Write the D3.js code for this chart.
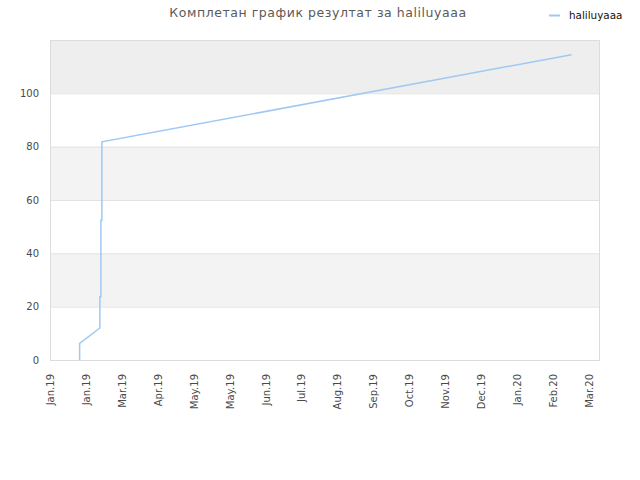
<!DOCTYPE html>
<html>
<head>
<meta charset="utf-8">
<script src="https://cdn.jsdelivr.net/npm/d3@7/dist/d3.min.js"></script>
<style>
  html, body { margin: 0; padding: 0; background: #fff; }
  svg { display: block; font-family: "DejaVu Sans", sans-serif; }
</style>
</head>
<body>
<svg id="chart" width="640" height="480"></svg>
<script>
// ---- data ----
const seriesName = "haliluyaaa";
const titleText = "Комплетан график резултат за haliluyaaa";
const pointDates = [
  "2019-01-25T18:00:00Z", "2019-01-25T18:00:00Z",
  "2019-02-11T16:00:00Z", "2019-02-11T16:00:00Z",
  "2019-02-12T12:00:00Z", "2019-02-12T12:00:00Z",
  "2019-02-13T08:00:00Z", "2019-02-13T08:00:00Z",
  "2020-03-11T12:00:00Z"
];
const pointValues = [0, 6.2, 12, 23.7, 23.7, 52.4, 52.4, 81.8, 114.5];
const xTickDates = [
  "2019-01-01", "2019-01-31", "2019-03-02", "2019-04-01", "2019-05-01",
  "2019-05-31", "2019-06-30", "2019-07-30", "2019-08-29", "2019-09-28",
  "2019-10-28", "2019-11-27", "2019-12-27", "2020-01-26", "2020-02-25",
  "2020-03-26"
];
const yTicks = [0, 20, 40, 60, 80, 100];
const yBands = [[20, 40], [60, 80], [100, 120]];
const xDomain = ["2019-01-01T00:00:00Z", "2020-04-04T08:00:00Z"];
const yDomain = [0, 120];

// ---- layout ----
const svg = d3.select("#chart");
const L = 50, R = 600, T = 40, B = 360;
const x = d3.scaleUtc().domain(xDomain.map(d => new Date(d))).range([L, R]);
const y = d3.scaleLinear().domain(yDomain).range([B, T]);

// bands
svg.append("g").selectAll("rect").data(yBands).join("rect")
  .attr("x", L).attr("width", R - L)
  .attr("y", d => y(d[1])).attr("height", d => y(d[0]) - y(d[1]))
  .attr("fill", d => d[1] === 120 ? "#eeeeee" : "#f3f3f3");

// grid lines
svg.append("g").selectAll("line").data(yTicks.filter(v => v > 0)).join("line")
  .attr("x1", L).attr("x2", R)
  .attr("y1", d => y(d) + 0.5).attr("y2", d => y(d) + 0.5)
  .attr("stroke", "#e2e2e2").attr("stroke-width", 1);

// border
svg.append("rect").attr("x", L + 0.5).attr("y", T + 0.5)
  .attr("width", R - L - 1).attr("height", B - T)
  .attr("fill", "none").attr("stroke", "#dcdcdc").attr("stroke-width", 1);

// y axis
const yAxis = d3.axisLeft(y).tickValues(yTicks).tickSize(0).tickPadding(11);
const gy = svg.append("g").attr("transform", `translate(${L},0)`).call(yAxis);
gy.select(".domain").remove();
gy.selectAll("text").attr("fill", "#4a4a4a").style("font-size", "10px")
  .style("font-family", "DejaVu Sans, sans-serif");

// x axis
const fmt = d3.utcFormat("%b.%y");
const xAxis = d3.axisBottom(x).tickValues(xTickDates.map(d => new Date(d + "T00:00:00Z")))
  .tickFormat(fmt).tickSize(0);
const gx = svg.append("g").attr("transform", `translate(0,${B})`).call(xAxis);
gx.select(".domain").remove();
gx.selectAll("text")
  .attr("fill", "#4a4a4a").style("font-size", "10px")
  .style("font-family", "DejaVu Sans, sans-serif")
  .attr("text-anchor", "end")
  .attr("transform", "rotate(-90)")
  .attr("x", -14).attr("y", 0).attr("dy", "0.35em");

// line
const data = pointDates.map((d, i) => ({ t: new Date(d), v: pointValues[i] }));
const line = d3.line().x(d => x(d.t)).y(d => y(d.v));
svg.append("path").datum(data)
  .attr("d", line).attr("fill", "none")
  .attr("stroke", "#9fc9f3").attr("stroke-width", 1.5);

// title
svg.append("text").attr("x", 318).attr("y", 17)
  .attr("text-anchor", "middle")
  .attr("fill", "#5a5a5a").style("font-size", "12.5px").style("letter-spacing", "0.55px")
  .text(titleText);

// legend
svg.append("line").attr("x1", 549).attr("x2", 560).attr("y1", 15.5).attr("y2", 15.5)
  .attr("stroke", "#9fc9f3").attr("stroke-width", 2);
svg.append("text").attr("x", 569).attr("y", 19)
  .attr("fill", "#111").style("font-size", "10.4px")
  .text(seriesName);
</script>
</body>
</html>
